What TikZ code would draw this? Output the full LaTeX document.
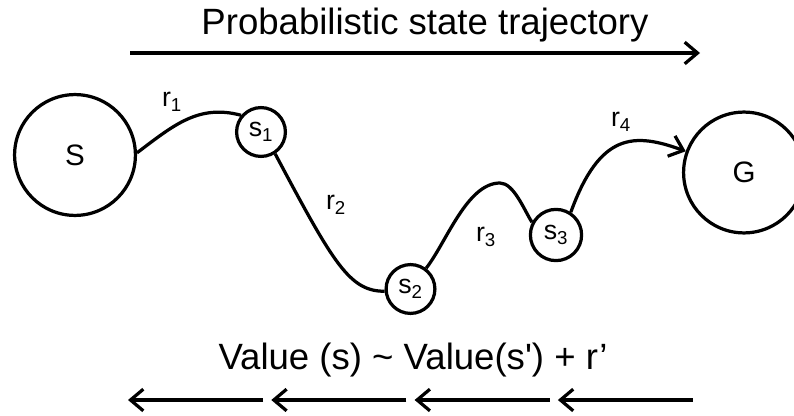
\documentclass[tikz,border=0pt]{standalone}
\usepackage{fontspec}
\setmainfont{Liberation Sans}
\usetikzlibrary{arrows.meta}

\begin{document}
\begin{tikzpicture}[
  x=0.025cm, y=0.025cm,
  line width=2.3pt,
  >={Straight Barb[length=3.2mm, width=5.4mm]},
  endstate/.style={draw, circle, minimum size=3.02cm, inner sep=0pt, font=\fontsize{21}{25}\selectfont},
  state/.style={draw, circle, minimum size=1.22cm, inner sep=0pt, font=\fontsize{19}{23}\selectfont},
  rew/.style={font=\fontsize{19}{23}\selectfont, inner sep=0pt},
  caption/.style={font=\fontsize{26}{31}\selectfont, anchor=base, inner sep=0pt},
  trajflow/.style={->},
  valflow/.style={->},
]
\useasboundingbox (0,0) rectangle (794,415);

% ---- start, intermediate and goal states
\node[endstate] (S)  at (75,260)    {S};
\node[state]    (s1) at (261,283)   {s\textsubscript{1}};
\node[state]    (s2) at (410.5,126) {s\textsubscript{2}};
\node[state, minimum size=1.28cm] (s3) at (556,180) {s\textsubscript{3}};
\node[endstate] (G)  at (744,242.5) {G};

% ---- the trajectory
\coordinate (hump) at (500,232);
\draw (S.2) .. controls +(37:46) and +(165:44) .. (s1.140);
\draw (s1.-57) .. controls +(-62:125) and +(180:35) .. (s2.185);
\draw (s2.53) to[out=52, in=180, looseness=0.75] (hump)
              to[out=0, in=123, looseness=0.7] (s3.152);
\draw[trajflow] (s3.57) .. controls +(70:85) and +(160:55) .. (G.160);

% ---- rewards
\node[rew] (r1) at (172,313) {r\textsubscript{1}};
\node[rew] (r2) at (336,210) {r\textsubscript{2}};
\node[rew] (r3) at (486,178) {r\textsubscript{3}};
\node[rew] (r4) at (621,293) {r\textsubscript{4}};

% ---- forward direction
\node[caption] (title) at (425,380) {Probabilistic state trajectory};
\coordinate (fwd0) at (130,362);
\coordinate (fwd1) at (700,362);
\draw[trajflow] (fwd0) -- (fwd1);

% ---- value backup
\node[caption] (bellman) at (413,46) {Value (s) \char"007E{} Value(s\textquotesingle) + r’};
\foreach \i in {0,...,3}{
  \coordinate (vl\i) at (128+143.3*\i,15);
  \coordinate (vr\i) at (263+143.3*\i,15);
  \draw[valflow] (vr\i) -- (vl\i);
}
\end{tikzpicture}
\end{document}
